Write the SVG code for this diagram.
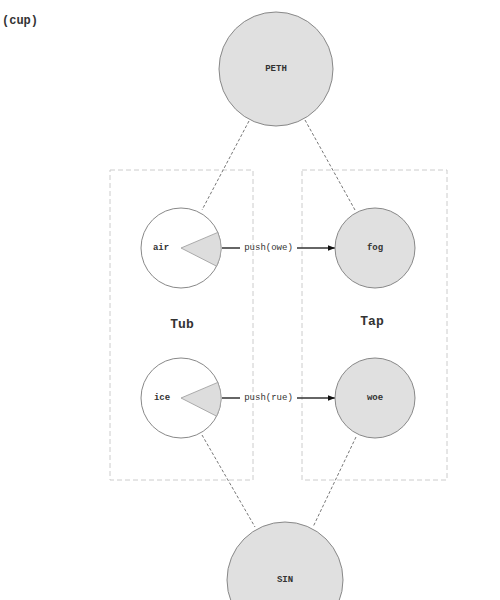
<svg xmlns="http://www.w3.org/2000/svg" width="500" height="600" viewBox="0 0 500 600">
<style>
.bg{fill:#ffffff}
.cluster{fill:none;stroke:#cccccc;stroke-width:1;stroke-dasharray:5,3}
.node{fill:#e0e0e0;stroke:#888888;stroke-width:1}
.wnode{fill:#ffffff;stroke:#888888;stroke-width:1}
.wedge{fill:#dddddd;stroke:#999999;stroke-width:0.8}
.dash{fill:none;stroke:#777777;stroke-width:1;stroke-dasharray:3,2}
.edge{fill:none;stroke:#333333;stroke-width:1.5}
.lbl{font-family:"Liberation Mono","Courier New",monospace;font-size:9px;font-weight:bold;fill:#333333;text-anchor:middle;dominant-baseline:central}
.elbl{font-family:"Liberation Mono","Courier New",monospace;font-size:9px;fill:#333333;text-anchor:middle;dominant-baseline:central}
.clbl{font-family:"Liberation Mono","Courier New",monospace;font-size:13px;font-weight:bold;fill:#333333;text-anchor:middle;dominant-baseline:central}
.title{font-family:"Liberation Mono","Courier New",monospace;font-size:12px;font-weight:bold;fill:#333333}
</style>
<defs>
<marker id="arr" viewBox="0 0 10 8" refX="10" refY="4" markerWidth="7.5" markerHeight="6" markerUnits="userSpaceOnUse" orient="auto">
<path d="M0,0 L10,4 L0,8 Z" fill="#111111"/>
</marker>
</defs>
<rect class="bg" x="0" y="0" width="500" height="600"/>
<text class="title" x="2" y="24">(cup)</text>

<g id="cluster-Tub">
<rect class="cluster" x="110" y="170" width="143" height="310"/>
<text class="clbl" x="182" y="324">Tub</text>
</g>
<g id="cluster-Tap">
<rect class="cluster" x="302" y="170" width="145" height="310"/>
<text class="clbl" x="372" y="321">Tap</text>
</g>

<g id="connectors">
<line class="dash" x1="249" y1="121" x2="202" y2="210"/>
<line class="dash" x1="305" y1="120" x2="355" y2="210"/>
<line class="dash" x1="202" y1="435" x2="255" y2="527"/>
<line class="dash" x1="356" y1="437" x2="313" y2="527"/>
<line class="edge" x1="222" y1="248" x2="240" y2="248"/>
<line class="edge" x1="297" y1="248" x2="335" y2="248" marker-end="url(#arr)"/>
<text class="elbl" x="268.5" y="248">push(owe)</text>
<line class="edge" x1="222" y1="398" x2="240" y2="398"/>
<line class="edge" x1="297" y1="398" x2="335" y2="398" marker-end="url(#arr)"/>
<text class="elbl" x="268.5" y="398">push(rue)</text>
</g>

<g id="PETH">
<circle class="node" cx="276" cy="69" r="57"/>
<text class="lbl" x="276" y="69">PETH</text>
</g>
<g id="air">
<circle class="wnode" cx="181" cy="248" r="40"/>
<path class="wedge" d="M181,248 L217.8,232.4 A40,40 0 0 1 216.6,266.2 Z"/>
<text class="lbl" x="161" y="248">air</text>
</g>
<g id="fog">
<circle class="node" cx="375" cy="248" r="40"/>
<text class="lbl" x="375" y="248">fog</text>
</g>
<g id="ice">
<circle class="wnode" cx="181" cy="398" r="40"/>
<path class="wedge" d="M181,398 L217.8,382.4 A40,40 0 0 1 216.6,416.2 Z"/>
<text class="lbl" x="162" y="398">ice</text>
</g>
<g id="woe">
<circle class="node" cx="375" cy="398" r="40"/>
<text class="lbl" x="375" y="398">woe</text>
</g>
<g id="SIN">
<circle class="node" cx="285" cy="580" r="58"/>
<text class="lbl" x="285" y="580">SIN</text>
</g>
</svg>
